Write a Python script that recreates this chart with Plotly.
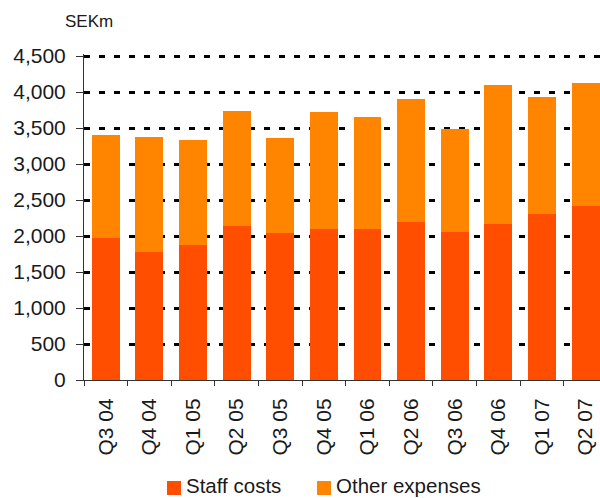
import plotly.graph_objects as go

quarters = ["Q3 04", "Q4 04", "Q1 05", "Q2 05", "Q3 05", "Q4 05",
            "Q1 06", "Q2 06", "Q3 06", "Q4 06", "Q1 07", "Q2 07"]
staff_costs = [1972, 1778, 1875, 2139, 2042, 2097, 2097, 2194, 2056, 2167, 2306, 2417]
other_expenses = [1431, 1602, 1458, 1597, 1324, 1625, 1556, 1709, 1430, 1930, 1625, 1708]
y_ticks = [0, 500, 1000, 1500, 2000, 2500, 3000, 3500, 4000, 4500]

FONT = "Liberation Sans, Arial, sans-serif"
TEXT = "#1a1a1a"
STAFF_COLOR = "#FF4E00"
OTHER_COLOR = "#FF8400"

W, H = 600, 498
ML, MR, MT, MB = 84, 0, 54, 118
PW, PH = W - ML - MR, H - MT - MB


def px_x(x):
    return (x - ML) / PW


def px_y(y):
    return (H - MB - y) / PH


fig = go.Figure()
fig.add_trace(go.Bar(x=quarters, y=staff_costs, name="Staff costs",
                     marker=dict(color=STAFF_COLOR, line=dict(width=0))))
fig.add_trace(go.Bar(x=quarters, y=other_expenses, name="Other expenses",
                     marker=dict(color=OTHER_COLOR, line=dict(width=0))))

# legend: swatch + label pairs along the bottom
legend_items = [("Staff costs", STAFF_COLOR, 167), ("Other expenses", OTHER_COLOR, 317)]
shapes = []
annotations = []
for label, color, x0 in legend_items:
    shapes.append(dict(type="rect", xref="paper", yref="paper",
                       x0=px_x(x0), x1=px_x(x0 + 14),
                       y0=px_y(495), y1=px_y(481),
                       fillcolor=color, line=dict(width=0)))
    annotations.append(dict(text=label, xref="paper", yref="paper",
                            x=px_x(x0 + 17), y=px_y(486),
                            xanchor="left", yanchor="middle", showarrow=False,
                            font=dict(size=20.5, family=FONT, color=TEXT)))

annotations.append(dict(text="SEKm", xref="paper", yref="paper",
                        x=px_x(89), y=px_y(22),
                        xanchor="center", yanchor="middle", showarrow=False,
                        font=dict(size=17, family=FONT, color=TEXT)))

fig.update_layout(
    width=W, height=H,
    barmode="stack", bargap=0.36,
    paper_bgcolor="white", plot_bgcolor="white",
    margin=dict(l=ML, r=MR, t=MT, b=MB, autoexpand=False),
    font=dict(family=FONT, color=TEXT),
    showlegend=False,
    xaxis=dict(
        type="category", range=[-0.5, 11.33], automargin=False,
        showline=True, linecolor="#333333", linewidth=1,
        ticks="outside", tickson="boundaries", ticklen=5, tickcolor="#333333",
        tickangle=-90, tickfont=dict(size=21, family=FONT, color=TEXT),
        ticklabelstandoff=9, showgrid=False,
    ),
    yaxis=dict(
        range=[0, 4528], tickvals=y_ticks, tickformat=",d", automargin=False,
        showline=True, linecolor="#333333", linewidth=1,
        ticks="outside", ticklen=7, tickcolor="#333333",
        tickfont=dict(size=21, family=FONT, color=TEXT), ticklabelstandoff=6,
        showgrid=True, gridcolor="black", gridwidth=3, griddash="6px,9px",
        zeroline=False,
    ),
    shapes=shapes,
    annotations=annotations,
)

fig.write_html("out.html")
